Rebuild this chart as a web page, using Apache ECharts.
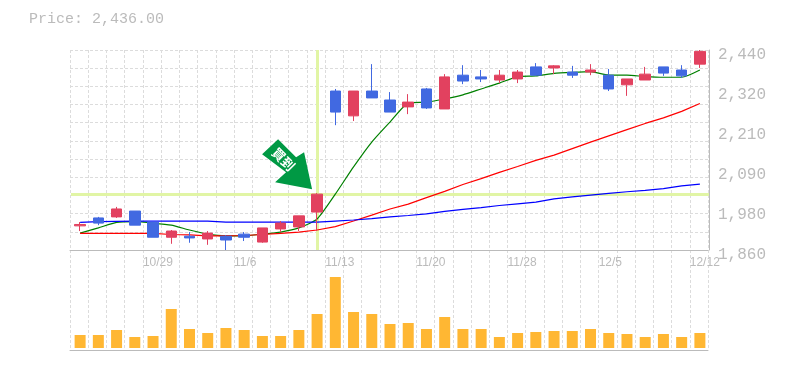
<!DOCTYPE html>
<html><head><meta charset="utf-8">
<style>html,body{margin:0;padding:0;background:#fff}#c{width:785px;height:370px}</style>
<script src="https://cdn.jsdelivr.net/npm/echarts@6/dist/echarts.min.js"></script>
</head><body><div id="c"></div>
<script>
const titleText = 'Price: 2,436.00';
const dates = ['10/23','10/24','10/25','10/28','10/29','10/30','10/31','11/1','11/5','11/6','11/7','11/8','11/11','11/12','11/13','11/14','11/15','11/18','11/19','11/20','11/21','11/22','11/25','11/26','11/28','11/29','12/2','12/3','12/4','12/5','12/6','12/9','12/10','12/11','12/12'];
const labelledDates = ['10/29','11/6','11/13','11/20','11/28','12/5','12/12'];
const priceTicks = [1860,1976,2092,2208,2324,2440];
const priceTickLabels = ['1,860','1,980','2,090','2,210','2,320','2,440'];
const opens  = [1930,1953,1956,1973,1941,1897,1900,1892,1900,1906,1883,1921,1927,1970,2321,2249,2321,2295,2275,2327,2269,2367,2362,2353,2356,2391,2388,2376,2376,2367,2339,2353,2391,2382,2399];
const closes = [1934,1938,1979,1932,1897,1915,1895,1909,1889,1897,1924,1938,1959,2022,2260,2321,2301,2260,2289,2272,2362,2350,2356,2367,2376,2367,2394,2367,2382,2327,2356,2370,2373,2365,2436];
const lows   = [1915,1932,1953,1932,1897,1878,1881,1875,1860,1886,1881,1912,1915,1915,2222,2234,2301,2260,2254,2269,2269,2341,2347,2344,2344,2367,2370,2359,2367,2321,2307,2353,2365,2359,2388];
const highs  = [1941,1956,1985,1973,1941,1918,1912,1915,1903,1912,1924,1944,1959,2025,2327,2321,2399,2318,2312,2330,2370,2396,2382,2382,2382,2402,2396,2394,2399,2385,2356,2391,2391,2396,2440];
const maShort = [1909,1924,1940,1942,1938,1932,1918,1906,1901,1901,1906,1912,1924,1950,2022,2101,2173,2231,2286,2289,2298,2310,2327,2344,2363,2365,2372,2375,2377,2367,2367,2363,2361,2361,2382];
const maMid   = [1908,1908,1908,1908,1908,1905,1904,1901,1901,1902,1905,1908,1912,1918,1928,1944,1961,1979,1993,2012,2030,2050,2067,2085,2102,2120,2135,2154,2173,2191,2209,2227,2243,2262,2285];
const maLong  = [1940,1942,1943,1944,1944,1944,1944,1944,1941,1941,1941,1941,1941,1941,1944,1947,1951,1956,1960,1965,1972,1978,1983,1989,1994,1999,2008,2014,2019,2024,2029,2033,2038,2046,2051];
const volumes = [13,13,18,11,12,39,19,15,20,18,12,12,18,34,71,36,34,24,25,19,31,19,19,11,15,16,17,17,19,15,14,11,14,11,15];
const signalIndex = 13;
const signalPrice = 2022;
const signalText = '買到';

const GREY = '#bbb', GRID = '#dcdcdc', MONO = '"Liberation Mono", monospace', SANS = '"Liberation Sans", sans-serif';
const dash = {color: GRID, type: [3, 2], width: 1};
const boundaryAxisData = dates.concat(['']);
const candle = dates.map((d, i) => [opens[i], closes[i], lows[i], highs[i]]);
const line = (name, data, color, smooth) => ({name, type: 'line', xAxisIndex: 2, yAxisIndex: 2, data, showSymbol: false, symbol: 'none', z: 3, silent: true, smooth, lineStyle: {color, width: 1.2}});
const arrow = 'path://M262 154L278 139L296 157L304 152L312 189L275 182L286 172Z';

const option = {
  animation: false,
  backgroundColor: '#fff',
  title: {text: titleText, left: 24, top: 7, textStyle: {fontFamily: MONO, fontSize: 15, fontWeight: 'normal', color: GREY}},
  grid: [
    {left: 70, top: 50, width: 638, height: 200},
    {left: 70, top: 250, width: 638, height: 100},
    {left: 71, top: 50, width: 638, height: 200},
    {left: 71, top: 250, width: 638, height: 98}
  ],
  xAxis: [
    {gridIndex: 0, type: 'category', boundaryGap: false, data: boundaryAxisData,
      axisLine: {show: true, lineStyle: {color: GREY, width: 1}}, axisTick: {show: false},
      splitLine: {show: true, interval: 0, lineStyle: dash},
      axisLabel: {interval: (i, v) => labelledDates.includes(v), align: 'left', margin: 7, fontFamily: SANS, fontSize: 12, color: GREY, showMinLabel: true, showMaxLabel: true, hideOverlap: false}},
    {gridIndex: 1, type: 'category', boundaryGap: false, data: boundaryAxisData,
      axisLine: {show: true, lineStyle: {color: GREY, width: 1}}, axisTick: {show: false}, axisLabel: {show: false},
      splitLine: {show: true, interval: 0, lineStyle: dash}},
    {gridIndex: 2, type: 'category', data: dates, axisLine: {show: false}, axisTick: {show: false}, axisLabel: {show: false}, splitLine: {show: false}},
    {gridIndex: 3, type: 'category', data: dates, axisLine: {show: false}, axisTick: {show: false}, axisLabel: {show: false}, splitLine: {show: false}}
  ],
  yAxis: [
    {gridIndex: 0, type: 'value', min: 0, max: 11, interval: 1, axisLine: {show: false}, axisTick: {show: false}, axisLabel: {show: false}, splitLine: {show: true, lineStyle: dash}},
    {gridIndex: 1, type: 'value', min: 0, max: 1, axisLine: {show: false}, axisTick: {show: false}, axisLabel: {show: false}, splitLine: {show: false}},
    {gridIndex: 2, type: 'value', position: 'right', min: 1860, max: 2440,
      axisLine: {show: true, lineStyle: {color: GREY, width: 1}}, axisTick: {show: false}, splitLine: {show: false},
      axisLabel: {customValues: priceTicks, formatter: v => priceTickLabels[priceTicks.indexOf(v)], margin: 9, verticalAlign: 'top', lineHeight: 10, fontFamily: MONO, fontSize: 16, color: GREY, showMinLabel: true, showMaxLabel: true}},
    {gridIndex: 3, type: 'value', position: 'right', min: 0, max: 98, axisLine: {show: false}, axisTick: {show: false}, axisLabel: {show: false}, splitLine: {show: false}}
  ],
  series: [
    {name: 'crosshair', type: 'line', xAxisIndex: 2, yAxisIndex: 2, data: [], z: 2, silent: true,
      markLine: {silent: true, symbol: 'none', animation: false, label: {show: false}, z: 2,
        lineStyle: {color: '#E1F5A5', width: 3, type: 'solid'},
        data: [{xAxis: signalIndex}, {yAxis: signalPrice}]}},
    line('MA short', maShort, '#008000', 0.2),
    line('MA mid', maMid, '#ff0000', false),
    line('MA long', maLong, '#0000ff', false),
    {name: 'Price', type: 'candlestick', xAxisIndex: 2, yAxisIndex: 2, data: candle, barWidth: 11, z: 5, silent: true,
      itemStyle: {color: '#E2415F', color0: '#4169E1', borderColor: '#E2415F', borderColor0: '#4169E1', borderWidth: 1},
      markPoint: {silent: true, z: 8, animation: false,
        data: [{coord: [signalIndex, signalPrice], symbol: arrow, symbolSize: [50, 50], symbolKeepAspect: true, symbolOffset: [-30, -30],
          itemStyle: {color: '#009944'},
          label: {show: true, position: 'inside', formatter: signalText, rotate: -45, offset: [-6, -1], color: '#fff', fontSize: 13, fontWeight: 'bold', fontFamily: '"Noto Sans CJK JP"'}}]}},
    {name: 'Volume', type: 'bar', xAxisIndex: 3, yAxisIndex: 3, data: volumes, barWidth: 11, silent: true, itemStyle: {color: '#FFB733'}}
  ]
};
echarts.init(document.getElementById('c'), null, {renderer: 'canvas'}).setOption(option);
</script></body></html>
